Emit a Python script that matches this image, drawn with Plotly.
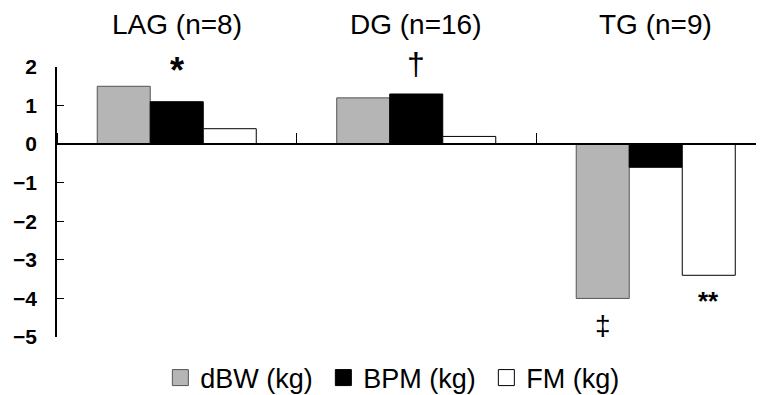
import plotly.graph_objects as go

groups = ["LAG (n=8)", "DG (n=16)", "TG (n=9)"]
series_names = ["dBW (kg)", "BPM (kg)", "FM (kg)"]
dBW = [1.5, 1.2, -4.0]
BPM = [1.1, 1.3, -0.6]
FM = [0.4, 0.2, -3.4]
# significance marks: (series index, group index, symbol)
sig_marks = [(1, 0, "*"), (1, 1, "†"), (0, 2, "‡"), (2, 2, "**")]
y_ticks = [2, 1, 0, -1, -2, -3, -4, -5]

FONT = "Liberation Sans, Arial, Helvetica, sans-serif"
fills = ["#b5b5b5", "#000000", "#ffffff"]
edges = ["#555555", "#000000", "#000000"]
values = [dBW, BPM, FM]

# layout constants (page body has an 8px default margin)
W, H = 756, 387
ML, MR, MT, MB = 49, 0, 59, 58
XRANGE = [-0.5, 2.452]
BARGAP = 0.336

fig = go.Figure()
for name, vals, fc, ec in zip(series_names, values, fills, edges):
    fig.add_trace(go.Bar(
        x=groups, y=vals, name=name, showlegend=False,
        marker=dict(color=fc, line=dict(color=ec, width=1)),
    ))
    fig.add_trace(go.Scatter(
        x=[None], y=[None], mode="markers", name=name,
        marker=dict(symbol="square", size=16, color=fc,
                    line=dict(color=ec, width=1)),
    ))

# pixel width of one bar, derived from the axis layout
cat_px = (W - ML - MR) / (XRANGE[1] - XRANGE[0])
bar_px = cat_px * (1 - BARGAP) / len(values)

mark_style = {
    "*": dict(size=36, yshift=31, weight="bold"),
    "†": dict(size=32, yshift=30, weight="normal"),
    "‡": dict(size=28, yshift=-27, weight="normal"),
    "**": dict(size=26, yshift=-26, weight="bold"),
}
for si, gi, sym in sig_marks:
    st = mark_style[sym]
    fig.add_annotation(
        x=groups[gi], y=values[si][gi], xref="x", yref="y", text=sym,
        showarrow=False, yanchor="middle", xanchor="center",
        xshift=(si - 1) * bar_px, yshift=st["yshift"],
        font=dict(family=FONT, size=st["size"], color="black",
                  weight=st["weight"]),
    )

for g in groups:
    fig.add_annotation(x=g, xref="x", y=1, yref="paper", text=g,
                       showarrow=False, yanchor="middle", yshift=43,
                       font=dict(family=FONT, size=28, color="black"))

fig.update_layout(
    width=W, height=H,
    margin=dict(l=ML, r=MR, t=MT, b=MB, autoexpand=False),
    paper_bgcolor="white", plot_bgcolor="white",
    barmode="group", bargap=BARGAP, bargroupgap=0,
    font=dict(family=FONT, color="black"),
    legend=dict(orientation="h", x=0.492, xanchor="center", y=-0.152,
                yanchor="middle", font=dict(family=FONT, size=27, color="black"),
                itemsizing="trace", itemwidth=30, entrywidth=118,
                bgcolor="rgba(0,0,0,0)"),
    xaxis=dict(type="category", range=XRANGE, anchor="free",
               position=5/7, side="top", showline=True, linecolor="black",
               linewidth=1.5, ticks="outside", tickson="boundaries",
               ticklen=10, tickcolor="black", tickwidth=1,
               showticklabels=False, showgrid=False, zeroline=False),
    yaxis=dict(range=[-5, 2], tickvals=y_ticks, ticks="inside", ticklen=7,
               tickcolor="black", tickwidth=1, showline=True,
               linecolor="black", linewidth=1.5, showgrid=False,
               zeroline=False, ticklabelstandoff=14,
               tickfont=dict(family=FONT, size=21, color="black", weight="bold")),
)

fig.write_html("out.html")
